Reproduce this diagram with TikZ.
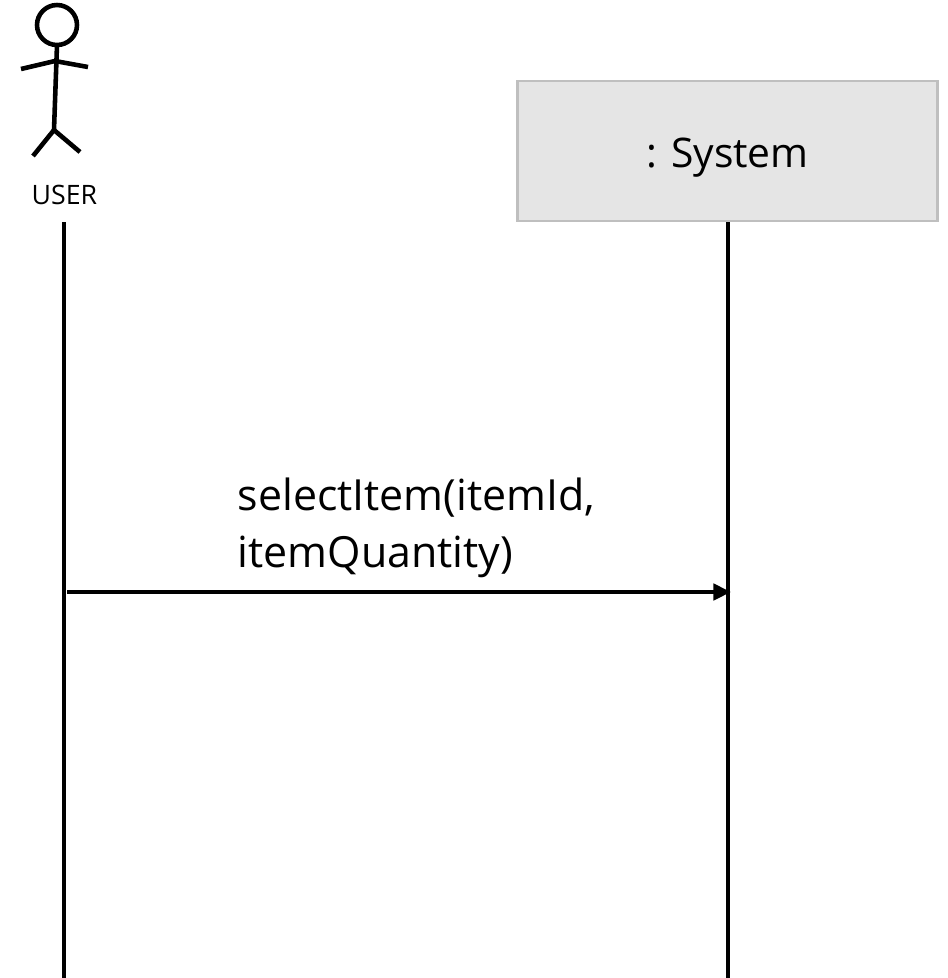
\documentclass[tikz,border=0pt]{standalone}
\usepackage{fontspec}
\setmainfont{Open Sans}
\usetikzlibrary{arrows.meta}
\begin{document}
\begin{tikzpicture}[x=0.01cm,y=-0.01cm]
    \useasboundingbox (0,0) rectangle (948,978);
    \tikzset{
      lifeline/.style={line width=1.15pt},
      stick/.style={line width=1.3pt},
      object/.style={draw=black!25,fill=black!10,line width=0.8pt,minimum width=4.2cm,minimum height=1.4cm,text height=0.32cm,text depth=0pt,font=\fontsize{11.6}{14}\selectfont}
    }
    % actor
    \draw [stick] (57,25) circle (20);
    \draw [stick] (57,45) -- (54,130);
    \draw [stick] (21,69) -- (55,61) -- (88,67);
    \draw [stick] (33,156) -- (54,130) -- (80,152);
    \node (userlabel) at (64.5,194.5) [font=\fontsize{7.6}{9}\selectfont,inner sep=0pt] {USER};
    \node (systembox) at (727.5,151) [object] {: System};
    % lifelines
    \coordinate (userstart) at (64,222);
    \coordinate (userend) at (64,978);
    \coordinate (systemstart) at (728,222);
    \coordinate (systemend) at (728,978);
    \draw [lifeline] (userstart) -- (userend);
    \draw [lifeline] (systemstart) -- (systemend);
    % message
    \coordinate (msgstart) at (67,592);
    \coordinate (msgend) at (731,592);
    \draw [-{Triangle[length=5pt,width=4.6pt]},lifeline] (msgstart) -- (msgend);
    \node (msglabel) at (237,528) [anchor=west,align=left,inner sep=0pt,font=\fontsize{12.2}{16.2}\selectfont] {selectItem(itemId,\\itemQuantity)};
  \end{tikzpicture}
\end{document}
